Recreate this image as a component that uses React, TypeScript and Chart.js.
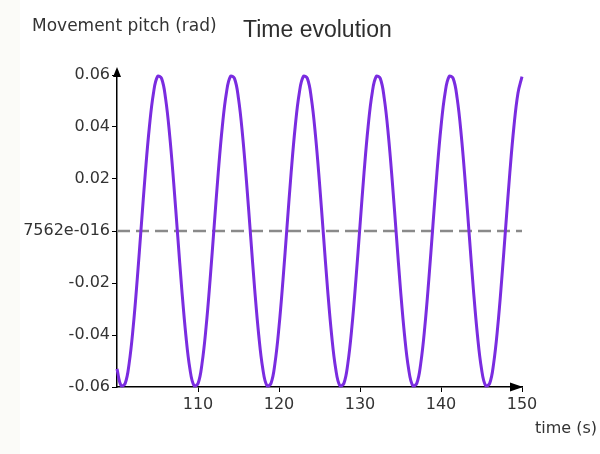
import React, { useEffect, useRef } from 'react';
import { Chart, registerables } from 'chart.js';

Chart.register(...registerables);

const times = [
  100, 100.5, 101, 101.5, 102, 102.5, 103, 103.5, 104, 104.5,
  105, 105.5, 106, 106.5, 107, 107.5, 108, 108.5, 109, 109.5,
  110, 110.5, 111, 111.5, 112, 112.5, 113, 113.5, 114, 114.5,
  115, 115.5, 116, 116.5, 117, 117.5, 118, 118.5, 119, 119.5,
  120, 120.5, 121, 121.5, 122, 122.5, 123, 123.5, 124, 124.5,
  125, 125.5, 126, 126.5, 127, 127.5, 128, 128.5, 129, 129.5,
  130, 130.5, 131, 131.5, 132, 132.5, 133, 133.5, 134, 134.5,
  135, 135.5, 136, 136.5, 137, 137.5, 138, 138.5, 139, 139.5,
  140, 140.5, 141, 141.5, 142, 142.5, 143, 143.5, 144, 144.5,
  145, 145.5, 146, 146.5, 147, 147.5, 148, 148.5, 149, 149.5,
  150,
];

const pitch = [
  -0.0530, -0.0594, -0.0587, -0.0509, -0.0369, -0.0185, 0.0021, 0.0225, 0.0401, 0.0530,
  0.0594, 0.0587, 0.0509, 0.0369, 0.0185, -0.0021, -0.0225, -0.0401,
  -0.0530, -0.0594, -0.0587, -0.0509, -0.0369, -0.0185, 0.0021, 0.0225, 0.0401, 0.0530,
  0.0594, 0.0587, 0.0509, 0.0369, 0.0185, -0.0021, -0.0225, -0.0401,
  -0.0530, -0.0594, -0.0587, -0.0509, -0.0369, -0.0185, 0.0021, 0.0225, 0.0401, 0.0530,
  0.0594, 0.0587, 0.0509, 0.0369, 0.0185, -0.0021, -0.0225, -0.0401,
  -0.0530, -0.0594, -0.0587, -0.0509, -0.0369, -0.0185, 0.0021, 0.0225, 0.0401, 0.0530,
  0.0594, 0.0587, 0.0509, 0.0369, 0.0185, -0.0021, -0.0225, -0.0401,
  -0.0530, -0.0594, -0.0587, -0.0509, -0.0369, -0.0185, 0.0021, 0.0225, 0.0401, 0.0530,
  0.0594, 0.0587, 0.0509, 0.0369, 0.0185, -0.0021, -0.0225, -0.0401,
  -0.0530, -0.0594, -0.0587, -0.0509, -0.0369, -0.0185, 0.0021, 0.0225, 0.0401, 0.0530,
  0.0594,
];

const xTickValues = [110, 120, 130, 140, 150];
const yTickValues = [-0.06, -0.04, -0.02, 0, 0.02, 0.04, 0.06];
const yTickLabels = ['-0.06', '-0.04', '-0.02', '7562e-016', '0.02', '0.04', '0.06'];
const yTitle = 'Movement pitch (rad)';
const chartTitle = 'Time evolution';
const xTitle = 'time (s)';
const referenceLevel = 0;

const decorPlugin = {
  id: 'decor',
  beforeDatasetsDraw(chart: any) {
    const { ctx, chartArea } = chart;
    const y = chart.scales.y.getPixelForValue(referenceLevel);
    ctx.save();
    ctx.strokeStyle = '#8a8a8a';
    ctx.lineWidth = 2.5;
    ctx.setLineDash([13, 6]);
    ctx.beginPath();
    ctx.moveTo(chartArea.left, y);
    ctx.lineTo(chartArea.right, y);
    ctx.stroke();
    ctx.restore();
  },
  afterDraw(chart: any) {
    const { ctx, chartArea } = chart;
    const { left, right, top, bottom } = chartArea;
    ctx.save();
    ctx.fillStyle = '#000';
    ctx.beginPath();
    ctx.moveTo(left, top - 8);
    ctx.lineTo(left - 4, top + 2);
    ctx.lineTo(left + 4, top + 2);
    ctx.closePath();
    ctx.fill();
    ctx.beginPath();
    ctx.moveTo(right + 1, bottom);
    ctx.lineTo(right - 12, bottom - 4.5);
    ctx.lineTo(right - 12, bottom + 4.5);
    ctx.closePath();
    ctx.fill();

    ctx.textBaseline = 'alphabetic';
    ctx.textAlign = 'left';
    ctx.fillStyle = '#333';
    ctx.font = '17px "DejaVu Sans"';
    ctx.fillText(yTitle, left - 85, 31);
    ctx.fillStyle = '#2e2e2e';
    ctx.font = '23px "Liberation Sans"';
    ctx.fillText(chartTitle, left + 126, 37);
    ctx.fillStyle = '#333';
    ctx.font = '16px "DejaVu Sans"';
    ctx.fillText(xTitle, right + 13, bottom + 46);
    ctx.restore();
  },
};

export default function App() {
  const ref = useRef<HTMLCanvasElement | null>(null);

  useEffect(() => {
    if (!ref.current) return;
    const chart = new Chart(ref.current, {
      type: 'line',
      data: {
        datasets: [
          {
            data: times.map((t, i) => ({ x: t, y: pitch[i] })),
            borderColor: '#7a2ce0',
            borderWidth: 3,
            pointRadius: 0,
            tension: 0.4,
            fill: false,
            clip: false as any,
          },
        ],
      },
      options: {
        responsive: false,
        animation: false,
        layout: { padding: { left: 0, right: 78, top: 75, bottom: 27 } },
        plugins: {
          legend: { display: false },
          tooltip: { enabled: false },
          title: { display: false },
        },
        scales: {
          x: {
            type: 'linear',
            min: 100,
            max: 150,
            afterBuildTicks: (s: any) => {
              s.ticks = xTickValues.map((v) => ({ value: v }));
            },
            afterFit: (s: any) => {
              s.height = 40;
            },
            grid: { drawOnChartArea: false, drawTicks: true, tickLength: 5, tickColor: '#000' },
            border: { color: '#000', width: 1.5 },
            ticks: {
              font: { family: 'DejaVu Sans', size: 16 },
              color: '#333',
              padding: 3,
              maxRotation: 0,
              autoSkip: false,
            },
          },
          y: {
            type: 'linear',
            min: -0.06,
            max: 0.06,
            afterBuildTicks: (s: any) => {
              s.ticks = yTickValues.map((v) => ({ value: v }));
            },
            afterFit: (s: any) => {
              s.width = 117;
            },
            grid: { drawOnChartArea: false, drawTicks: true, tickLength: 5, tickColor: '#000' },
            border: { color: '#000', width: 1.5 },
            ticks: {
              font: { family: 'DejaVu Sans', size: 16 },
              color: '#333',
              padding: 2,
              autoSkip: false,
              callback: (value: any) => {
                const i = yTickValues.findIndex((v) => Math.abs(v - Number(value)) < 1e-9);
                return i >= 0 ? yTickLabels[i] : '';
              },
            },
          },
        },
      },
      plugins: [decorPlugin],
    });
    return () => chart.destroy();
  }, []);

  return (
    <div
      style={{
        position: 'absolute',
        left: 0,
        top: 0,
        width: 600,
        height: 454,
        background: 'linear-gradient(to right, #fbfbf8 0px, #fbfbf8 20px, #ffffff 20px)',
      }}
    >
      <canvas ref={ref} width={600} height={454} style={{ width: 600, height: 454, display: 'block' }} />
    </div>
  );
}
